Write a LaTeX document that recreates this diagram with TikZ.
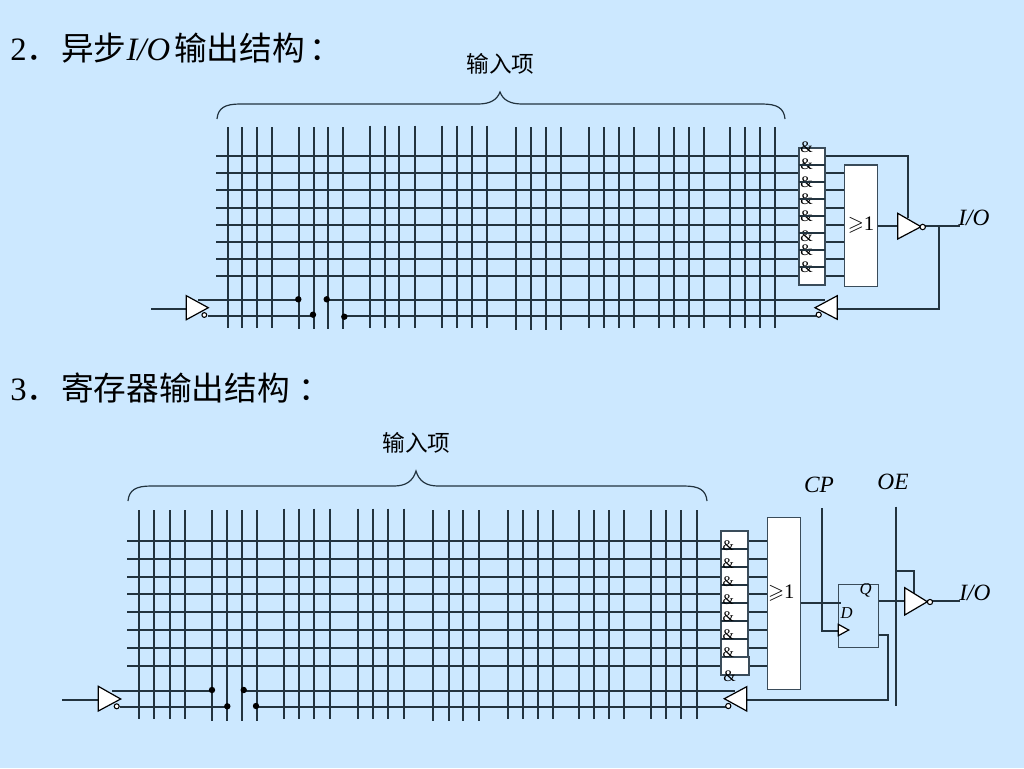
\documentclass[tikz,border=0pt]{standalone}
\usepackage{amssymb}
\usepackage{fontspec}
\setmainfont{Liberation Serif}
\newfontfamily\cjk{Noto Sans CJK SC}
\definecolor{bgc}{HTML}{CCE8FF}
\definecolor{wire}{HTML}{22333F}
\definecolor{boxline}{HTML}{3A4C5A}
\tikzset{
  lbl/.style={inner sep=0pt,text=black},
  title/.style={lbl,anchor=base west,font=\fontsize{24.5pt}{28pt}\selectfont},
  cnlbl/.style={lbl,font=\cjk\fontsize{17pt}{20pt}\selectfont},
  iolbl/.style={lbl,font=\fontsize{17.5pt}{20pt}\selectfont\itshape},
  amp/.style={lbl,font=\fontsize{12pt}{14pt}\selectfont},
  wireline/.style={draw=wire,line width=1.5pt},
  gate/.style={draw=black,fill=white,line width=0.9pt,line join=miter},
  cell/.style={draw=boxline,fill=white,line width=1.5pt},
  bubble/.style={draw=black,fill=white,line width=0.8pt},
  dotc/.style={fill=black},
  brace/.style={draw=wire,line width=0.9pt}
}
\begin{document}
\begin{tikzpicture}[x=0.75pt,y=-0.75pt]
\useasboundingbox (0,0) rectangle (1024,768);
\fill[bgc] (0,0) rectangle (1024,768);

% titles
\node[title] (t2) at (10,60) {2{\cjk ．}\hspace{1.5pt}{\cjk 异步}\textit{I/O}\hspace{3pt}{\cjk 输出结构}\hspace{3.5pt}{\cjk ：}};
\node[title] (t3) at (10,400) {3{\cjk ．}\hspace{1.5pt}{\cjk 寄存器输出结构}\hspace{6.5pt}{\cjk ：}};

% ---------- upper diagram ----------
\node[cnlbl] (in1) at (500.5,64) {输入项};
\draw[brace] (217,119) .. controls (218,108) and (225,104) .. (240,104)
  -- (478,104) .. controls (490,104) and (497,100) .. (500,92)
  .. controls (503,100) and (510,104) .. (522,104)
  -- (762,104) .. controls (777,104) and (784,108) .. (785,119);

% columns
\foreach \t/\b/\l in {
  127.3/327.7/{227.7,242.3,257,272.3},
  127.3/329/{299,313.7,328,343.3},
  125.7/327.7/{369.7,384.7,399.3,414.7},
  125.7/327.7/{442.3,457.3,471.7,487},
  127/329.5/{516.3,531.3,545.7,561},
  127.3/327.7/{589.3,604.3,618.7,634,659,674,688.7,703.7,730.3,745.3,759.7,774.7}}{
  \foreach \x in \l { \draw[wireline] (\x,\t) -- (\x,\b); }
}
% product rows
\foreach \y [count=\i] in {156.3,173.3,190.3,207.7,225,242,259,276}{
  \coordinate (ua\i) at (216,\y);
  \coordinate (ub\i) at (844.3,\y);
  \draw[wireline] (ua\i) -- (ub\i);
}
% enable on top row
\coordinate (uen1) at (907.5,156.3);
\coordinate (uen2) at (907.5,218);
\draw[wireline] (ub1) -- (uen1) -- (uen2);

% input buffer and true / complement lines
\coordinate (uin) at (151,308.5);
\coordinate (ubt1) at (186.3,295.7);
\coordinate (ubt2) at (186.3,319.7);
\coordinate (ubt3) at (208.3,307.7);
\coordinate (ud1) at (298.3,299.3);
\coordinate (ud2) at (313,314.7);
\coordinate (ud3) at (326.7,299.3);
\coordinate (ud4) at (344.3,316.7);
\draw[wireline] (uin) -- (186.3,308.5);
\draw[wireline] (198,300) -- (298.3,300);
\draw[wireline] (208,315.7) -- (313,315.7);
\draw[wireline] (326.7,300) -- (825,300);
\draw[wireline] (344.3,315.7) -- (816,315.7);
\foreach \n in {ud1,ud2,ud3,ud4}{ \fill[dotc] (\n) circle[radius=3.2]; }
\draw[gate] (ubt1) -- (ubt2) -- (ubt3) -- cycle;
\draw[bubble] (204.3,315) circle[radius=2.4];

% AND stack
\coordinate (ua0) at (798.7,147.7);
\coordinate (uaz) at (825.3,285);
\draw[cell] (ua0) rectangle (uaz);
\foreach \ya in {147,164,182,199,216,236,250,267}{
  \node[amp] at (806.5,\ya) {\&};
}
\foreach \y in {164.7,182,199,216,233.3,250.3,267.3}{
  \draw[wireline] (798.7,\y) -- (825.3,\y);
}
% OR gate
\coordinate (uo1) at (844.3,165);
\coordinate (uo2) at (877.7,286.3);
\draw[gate,draw=boxline] (uo1) rectangle (uo2);
\node[lbl,font=\fontsize{15.5pt}{16pt}\selectfont] (uortxt) at (861,225) {$\geqslant$1};

% output driver
\coordinate (uot1) at (897.7,213.3);
\coordinate (uot2) at (897.7,239);
\coordinate (uot3) at (921,226.7);
\coordinate (uout) at (960,226);
\coordinate (ufb1) at (938.5,226);
\coordinate (ufb2) at (938.5,308.5);
\coordinate (ufb3) at (837.3,308.5);
\draw[wireline] (877.7,226) -- (uot1 |- uout);
\draw[wireline] (uot3 |- uout) -- (uout);
\draw[wireline] (ufb1) -- (ufb2) -- (ufb3);
\draw[gate] (uot1) -- (uot2) -- (uot3) -- cycle;
\draw[bubble] (922.7,227) circle[radius=2.7];
\node[iolbl] (uio) at (974,218) {I/O};

% feedback buffer
\draw[gate] (837.3,295.7) -- (837.3,319.3) -- (815,307.7) -- cycle;
\draw[bubble] (818.7,314.7) circle[radius=2.6];

% ---------- lower diagram ----------
\node[cnlbl] (in2) at (416.5,443) {输入项};
\draw[brace] (128,501) .. controls (129,490) and (136,486) .. (151,486)
  -- (394,486) .. controls (406,486) and (413,481) .. (416,471)
  .. controls (419,481) and (426,486) .. (438,486)
  -- (684,486) .. controls (699,486) and (706,490) .. (707,501);

\foreach \t/\b/\l in {
  510/719.3/{139.3,154.3,169.7,185},
  510/721/{212,227,242,257.3},
  508.5/719.3/{284,299.3,314.3,329.7,358,373.3,388,403.7},
  510/721/{433.3,449,463.3,479},
  510/719.3/{507.7,523,537.7,553.3,579,594,608.7,624.3,651,666.3,681,696.7}}{
  \foreach \x in \l { \draw[wireline] (\x,\t) -- (\x,\b); }
}
\foreach \y [count=\i] in {540.7,558.7,576.7,594.3,612.3,630.3,648.3,666}{
  \coordinate (la\i) at (127,\y);
  \coordinate (lb\i) at (767.3,\y);
  \draw[wireline] (la\i) -- (lb\i);
}

\coordinate (lin) at (62.3,700);
\coordinate (lbt1) at (98.3,686.3);
\coordinate (lbt2) at (98.3,711);
\coordinate (lbt3) at (120.7,699);
\coordinate (ld1) at (212,690);
\coordinate (ld2) at (227.3,706.3);
\coordinate (ld3) at (243.7,690);
\coordinate (ld4) at (256,706);
\draw[wireline] (lin) -- (98.3,700);
\draw[wireline] (112,691.3) -- (212,691.3);
\draw[wireline] (120,707) -- (227.3,707);
\draw[wireline] (243.7,691.3) -- (735,691.3);
\draw[wireline] (256,707) -- (726,707);
\foreach \n in {ld1,ld2,ld3,ld4}{ \fill[dotc] (\n) circle[radius=3.2]; }
\draw[gate] (lbt1) -- (lbt2) -- (lbt3) -- cycle;
\draw[bubble] (116.7,706.3) circle[radius=2.5];

% AND stack
\coordinate (lz0) at (720.7,531.3);
\coordinate (lz1) at (748,657);
\draw[cell] (lz0) rectangle (lz1);
\draw[cell] (721.3,657) rectangle (748.5,674.7);
\foreach \y in {549.3,567.3,585.3,603.3,621.3,639}{
  \draw[wireline] (720.7,\y) -- (748,\y);
}
\foreach \ya in {546,563.3,581.3,599.3,616.7,634.7,652.3}{
  \node[amp,font=\fontsize{11pt}{13pt}\selectfont] at (728.3,\ya) {\&};
}
\node[amp] at (729.5,676.5) {\&};

% OR gate
\coordinate (lo1) at (767.3,517.3);
\coordinate (lo2) at (800.7,689.3);
\draw[gate,draw=boxline] (lo1) rectangle (lo2);
\node[lbl,font=\fontsize{15.5pt}{16pt}\selectfont] (lortxt) at (781.3,592.7) {$\geqslant$1};

% clock, OE
\coordinate (lcp1) at (821.7,508.3);
\coordinate (lcp2) at (821.7,631.3);
\coordinate (lcp3) at (838.3,631.3);
\draw[wireline] (lcp1) -- (lcp2) -- (lcp3);
\node[iolbl] (lcp) at (819,485) {CP};
\coordinate (loe1) at (895.7,506.7);
\coordinate (loe2) at (895.7,706);
\draw[wireline] (loe1) -- (loe2);
\node[iolbl] (loe) at (893,482) {OE};

% flip-flop
\coordinate (lf1) at (838.3,584.3);
\coordinate (lf2) at (878.7,647.3);
\draw[draw=boxline,line width=1pt] (lf1) rectangle (lf2);
\draw[wireline] (800.7,603.3) -- (841,603.3);
\draw[gate] (838.3,624.3) -- (838.3,635.7) -- (848.7,630) -- cycle;
\node[lbl,font=\fontsize{12.5pt}{14pt}\selectfont\itshape] (ld) at (846.7,613) {D};
\node[lbl,font=\fontsize{12.5pt}{14pt}\selectfont\itshape] (lq) at (865.7,590.7) {Q};

% output driver
\coordinate (lot1) at (904.7,587.7);
\coordinate (lot2) at (904.7,615);
\coordinate (lot3) at (927.3,601.7);
\coordinate (lout) at (960,601);
\draw[wireline] (878.7,601) -- (904.7,601);
\draw[wireline] (895.7,570.7) -- (914.3,570.7) -- (914.3,593);
\draw[wireline] (lot3 |- lout) -- (lout);
\draw[gate] (lot1) -- (lot2) -- (lot3) -- cycle;
\draw[bubble] (930,602) circle[radius=2.6];
\node[iolbl] (lio) at (975,593) {I/O};

% feedback
\draw[wireline] (878.7,635) -- (887.7,635) -- (887.7,700) -- (746.7,700);
\draw[gate] (746.7,686.7) -- (746.7,711) -- (724.3,698.7) -- cycle;
\draw[bubble] (728.3,706) circle[radius=2.6];
\end{tikzpicture}
\end{document}
